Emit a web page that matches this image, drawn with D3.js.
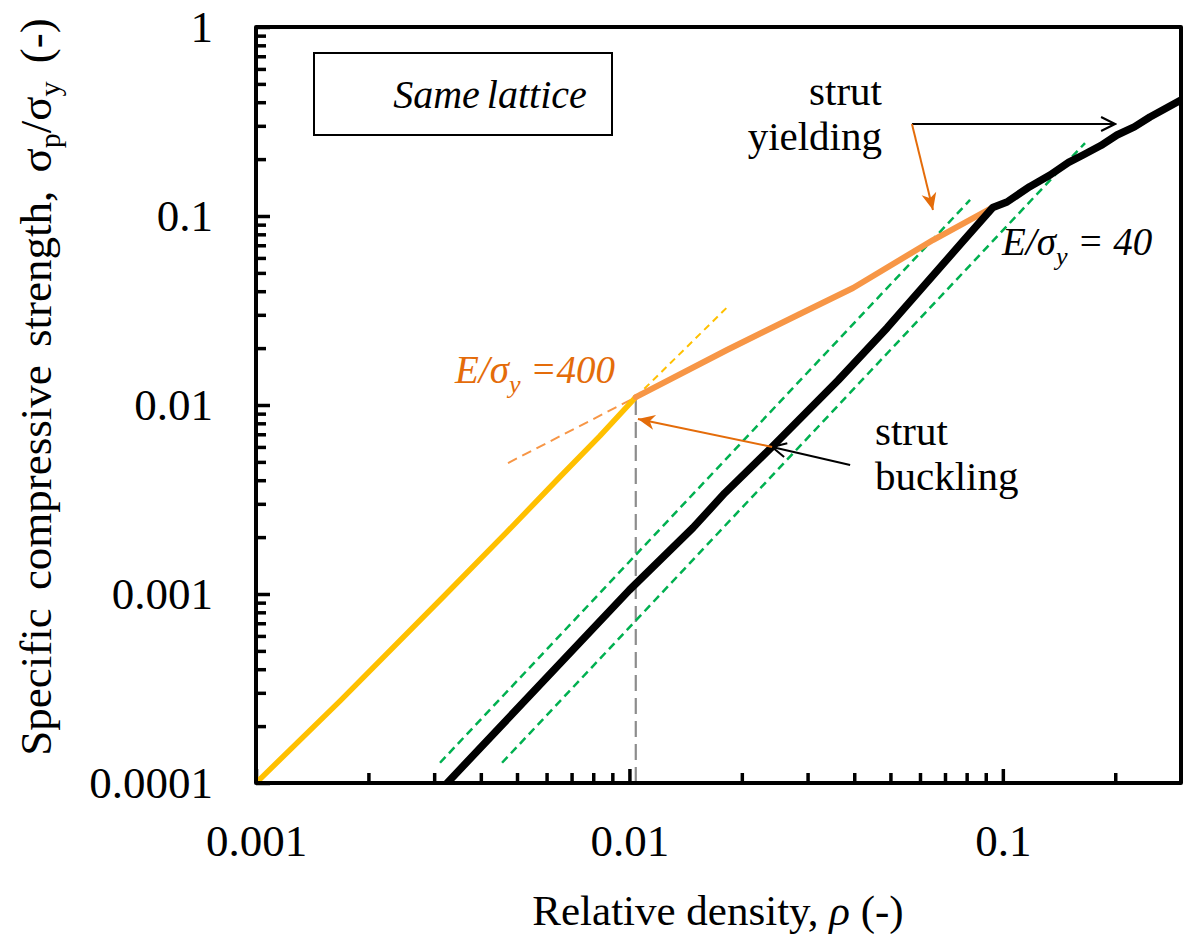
<!DOCTYPE html>
<html>
<head>
<meta charset="utf-8">
<script src="https://cdn.jsdelivr.net/npm/d3@7"></script>
<style>
  body { margin: 0; background: #fff; }
  svg { display: block; }
</style>
</head>
<body>
<svg id="chart" width="1187" height="938"></svg>
<script>
// ---- axis ticks ----
const xMajorTicks = [0.001, 0.01, 0.1];
const xMajorLabels = ["0.001", "0.01", "0.1"];
const yMajorTicks = [0.0001, 0.001, 0.01, 0.1, 1];
const yMajorLabels = ["0.0001", "0.001", "0.01", "0.1", "1"];

// ---- curves: relative density vs specific strength ----
// E/sigma_y = 400 : buckling branch (yellow) then yielding branch (orange)
const buckle400Rho = [0.001, 0.00168, 0.00317, 0.0047, 0.00651, 0.00834, 0.0104];
const buckle400Str = [0.0001, 0.000272, 0.000964, 0.00213, 0.00416, 0.00686, 0.011];
const yield400Rho = [0.0104, 0.0183, 0.0286, 0.0397, 0.065, 0.094];
const yield400Str = [0.011, 0.0196, 0.0303, 0.0416, 0.0746, 0.111];

// E/sigma_y = 40 : single curve (black)
const curve40Rho = [0.00325, 0.0100, 0.0148, 0.0180, 0.0241, 0.0362, 0.049, 0.0782, 0.094,
                    0.1026, 0.118, 0.1338, 0.150, 0.164, 0.183, 0.2022, 0.225, 0.2478, 0.3];
const curve40Str = [0.0001, 0.00105, 0.00224, 0.00342, 0.0060, 0.0135, 0.0256, 0.0735, 0.111,
                    0.1186, 0.143, 0.1648, 0.192, 0.2103, 0.236, 0.2683, 0.296, 0.334, 0.411];

// guide lines
const guideUpperRho = [0.00311, 0.0817];
const guideUpperStr = [0.000128, 0.1216];
const guideLowerRho = [0.00456, 0.166];
const guideLowerStr = [0.000128, 0.2433];
const buckleExtRho = [0.0104, 0.0183];
const buckleExtStr = [0.011, 0.033];
const yieldExtRho = [0.00473, 0.0104];
const yieldExtStr = [0.00493, 0.011];
const transitionRho = [0.0104, 0.0104];
const transitionStr = [0.0001, 0.0114];

// annotation arrows [rho0, str0, rho1, str1]
const arrowYieldBlack = [0.0571, 0.3067, 0.1998, 0.3067];
const arrowYieldOrange = [0.0571, 0.3067, 0.065, 0.1076];
const arrowBuckleBlack = [0.039, 0.00481, 0.0241, 0.0060];
const arrowBuckleOrange = [0.0241, 0.0060, 0.01054, 0.00844];

const FONT = "Liberation Serif";
const svg = d3.select("#chart");
const margin = { left: 256, right: 6, top: 27, bottom: 155 };
const W = 1187, H = 938;
const x = d3.scaleLog().domain([0.001, 0.3]).range([margin.left, W - margin.right]);
const y = d3.scaleLog().domain([0.0001, 1]).range([H - margin.bottom, margin.top]);
const x0 = x.range()[0], x1 = x.range()[1], y0 = y.range()[0], y1 = y.range()[1];

const defs = svg.append("defs");
defs.append("clipPath").attr("id", "plotClip")
  .append("rect").attr("x", x0).attr("y", y1).attr("width", x1 - x0).attr("height", y0 - y1);

// open chevron arrowhead (black)
defs.append("marker").attr("id", "openHead")
  .attr("markerUnits", "userSpaceOnUse").attr("viewBox", "-16 -9 18 18")
  .attr("markerWidth", 18).attr("markerHeight", 18).attr("refX", 0).attr("refY", 0)
  .attr("orient", "auto")
  .append("path").attr("d", "M-14,-7 L0,0 L-14,7")
  .attr("fill", "none").attr("stroke", "#000").attr("stroke-width", 2);
// filled stealth arrowhead (orange)
defs.append("marker").attr("id", "stealthHead")
  .attr("markerUnits", "userSpaceOnUse").attr("viewBox", "-18 -9 19 18")
  .attr("markerWidth", 19).attr("markerHeight", 18).attr("refX", 0).attr("refY", 0)
  .attr("orient", "auto")
  .append("path").attr("d", "M0,0 L-17,-7.5 L-12,0 L-17,7.5 Z")
  .attr("fill", "#E46C0A");

// ---- minor ticks per decade ----
function minorTicks(lo, hi) {
  const out = [];
  for (let e = Math.floor(Math.log10(lo)); e <= Math.ceil(Math.log10(hi)); e++) {
    for (let m = 2; m <= 9; m++) {
      const v = m * Math.pow(10, e);
      if (v > lo && v < hi) out.push(v);
    }
  }
  return out;
}

const gx = svg.append("g").attr("transform", `translate(0,${y0})`);
gx.call(d3.axisBottom(x).tickValues(minorTicks(0.001, 0.3)).tickSize(-10).tickFormat(""));
const gxMaj = svg.append("g").attr("transform", `translate(0,${y0})`);
gxMaj.call(d3.axisBottom(x).tickValues(xMajorTicks).tickSize(-14).tickPadding(41)
  .tickFormat((d, i) => xMajorLabels[i]));

const gy = svg.append("g").attr("transform", `translate(${x0},0)`);
gy.call(d3.axisLeft(y).tickValues(minorTicks(0.0001, 1)).tickSize(-10).tickFormat(""));
const gyMaj = svg.append("g").attr("transform", `translate(${x0},0)`);
gyMaj.call(d3.axisLeft(y).tickValues(yMajorTicks).tickSize(-14).tickPadding(43)
  .tickFormat((d, i) => yMajorLabels[i]));

svg.selectAll(".domain").remove();
svg.selectAll(".tick line").attr("stroke", "#000").attr("stroke-width", 3.5);
svg.selectAll(".tick text").attr("fill", "#000")
  .style("font-family", FONT).style("font-size", "45px");

// ---- lines ----
const plot = svg.append("g").attr("clip-path", "url(#plotClip)");
const lineGen = d3.line().x(d => x(d[0])).y(d => y(d[1]));
const zipPts = (a, b) => a.map((v, i) => [v, b[i]]);

function drawLine(rho, str, color, width, dash) {
  plot.append("path")
    .attr("d", lineGen(zipPts(rho, str)))
    .attr("fill", "none").attr("stroke", color).attr("stroke-width", width)
    .attr("stroke-linejoin", "round").attr("stroke-linecap", dash ? "butt" : "round")
    .attr("stroke-dasharray", dash || null);
}

drawLine(transitionRho, transitionStr, "#8C8C8C", 2.2, "16,7");
drawLine(yieldExtRho, yieldExtStr, "#F79646", 2, "10,6");
drawLine(buckleExtRho, buckleExtStr, "#FFC000", 2, "7,5");
drawLine(guideUpperRho, guideUpperStr, "#00B050", 2.5, "8,5");
drawLine(guideLowerRho, guideLowerStr, "#00B050", 2.5, "8,5");
drawLine(buckle400Rho, buckle400Str, "#FFC000", 5.5);
drawLine(yield400Rho, yield400Str, "#F79646", 6);
drawLine(curve40Rho, curve40Str, "#000", 7.5);

// ---- frame ----
svg.append("rect").attr("x", x0).attr("y", y1).attr("width", x1 - x0).attr("height", y0 - y1)
  .attr("fill", "none").attr("stroke", "#000").attr("stroke-width", 4).attr("stroke-linejoin", "round");

// ---- annotation arrows ----
function arrow(a, color, marker, width) {
  svg.append("line")
    .attr("x1", x(a[0])).attr("y1", y(a[1])).attr("x2", x(a[2])).attr("y2", y(a[3]))
    .attr("stroke", color).attr("stroke-width", width)
    .attr("marker-end", `url(#${marker})`);
}
arrow(arrowYieldBlack, "#000", "openHead", 2);
arrow(arrowYieldOrange, "#E46C0A", "stealthHead", 2);
arrow(arrowBuckleBlack, "#000", "openHead", 2);
arrow(arrowBuckleOrange, "#E46C0A", "stealthHead", 2);

// ---- text helpers ----
function label(parent, px, py, size, txt) {
  return parent.append("text").attr("x", px).attr("y", py)
    .style("font-family", FONT).style("font-size", size + "px").text(txt);
}

label(svg, 882, 105, 41, "strut").attr("text-anchor", "end");
label(svg, 882, 150, 41, "yielding").attr("text-anchor", "end");
label(svg, 875, 445, 41, "strut");
label(svg, 875, 490, 41, "buckling");

function ratioLabel(px, py, tail, color) {
  const t = label(svg, px, py, 39, null).style("font-style", "italic").attr("fill", color);
  t.append("tspan").text("E/σ");
  t.append("tspan").style("font-size", "26px").attr("dy", 10).text("y");
  t.append("tspan").attr("dy", -10).text(tail);
  return t;
}
ratioLabel(1002, 255, " = 40", "#000");
ratioLabel(455, 383, " =400", "#E46C0A");

// legend box
svg.append("rect").attr("x", 314).attr("y", 53).attr("width", 298).attr("height", 82)
  .attr("fill", "#fff").attr("stroke", "#000").attr("stroke-width", 2);
label(svg, 490, 108, 40, "Same lattice").attr("text-anchor", "middle")
  .style("font-style", "italic").style("word-spacing", "-3px");

// ---- axis titles ----
const xt = label(svg, 718, 925, 43, null).attr("text-anchor", "middle");
xt.append("tspan").text("Relative density, ");
xt.append("tspan").style("font-style", "italic").text("ρ");
xt.append("tspan").text(" (-)");

const yt = label(svg, 0, 0, 45, null).attr("transform", "translate(51,387) rotate(-90)")
  .attr("text-anchor", "middle").style("word-spacing", "7px");
yt.append("tspan").text("Specific compressive strength, σ");
yt.append("tspan").style("font-size", "30px").attr("dy", 9).text("p");
yt.append("tspan").attr("dy", -9).text("/σ");
yt.append("tspan").style("font-size", "30px").attr("dy", 9).text("y");
yt.append("tspan").attr("dy", -9).text(" (-)");
</script>
</body>
</html>
